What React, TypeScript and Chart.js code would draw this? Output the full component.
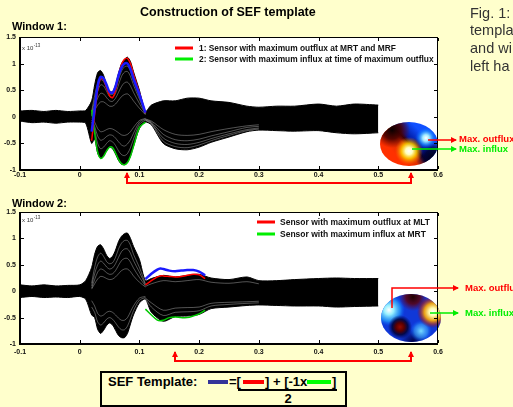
import React, { useEffect, useRef } from 'react';
import { Chart, registerables } from 'chart.js';
Chart.register(...registerables);

const FONT = '"Liberation Sans", Arial, Helvetica, sans-serif';
const BG = '#FFFFCC';

// ---------- data (units of 1e-13 T) ----------
const TIME = [-0.1, -0.08, -0.06, -0.04, -0.02, 0, 0.01, 0.02, 0.025, 0.03, 0.035, 0.04, 0.045, 0.05, 0.055, 0.06, 0.065, 0.07, 0.075, 0.08, 0.085, 0.09, 0.1, 0.11, 0.12, 0.14, 0.16, 0.18, 0.2, 0.22, 0.25, 0.28, 0.3, 0.33, 0.36, 0.4, 0.43, 0.46, 0.5];

const W1_UPPER = [0.11, 0.12, 0.1, 0.12, 0.1, 0.11, 0.12, 0.3, 0.6, 0.83, 0.87, 0.78, 0.6, 0.48, 0.47, 0.6, 0.82, 1.0, 1.08, 1.12, 1.04, 0.85, 0.5, 0.1, 0.22, 0.3, 0.3, 0.35, 0.35, 0.3, 0.27, 0.2, 0.18, 0.2, 0.2, 0.24, 0.2, 0.24, 0.22];
const W1_LOWER = [-0.08, -0.11, -0.1, -0.12, -0.1, -0.1, -0.12, -0.5, -0.42, -0.68, -0.78, -0.74, -0.64, -0.57, -0.6, -0.7, -0.82, -0.89, -0.9, -0.86, -0.74, -0.56, -0.22, -0.1, -0.15, -0.5, -0.6, -0.62, -0.57, -0.48, -0.38, -0.28, -0.25, -0.26, -0.27, -0.26, -0.3, -0.32, -0.3];

const W2_UPPER = [0.12, 0.1, 0.12, 0.1, 0.11, 0.12, 0.2, 0.45, 0.7, 0.85, 0.88, 0.8, 0.68, 0.62, 0.66, 0.78, 0.94, 1.04, 1.09, 1.1, 1.0, 0.85, 0.6, 0.2, 0.24, 0.3, 0.27, 0.3, 0.32, 0.25, 0.22, 0.27, 0.2, 0.2, 0.22, 0.24, 0.25, 0.24, 0.24];
const W2_LOWER = [-0.12, -0.1, -0.12, -0.11, -0.12, -0.1, -0.15, -0.45, -0.5, -0.72, -0.8, -0.74, -0.65, -0.6, -0.64, -0.74, -0.84, -0.88, -0.88, -0.8, -0.62, -0.45, -0.22, -0.15, -0.4, -0.57, -0.48, -0.47, -0.44, -0.33, -0.3, -0.27, -0.26, -0.27, -0.28, -0.28, -0.3, -0.29, -0.28];

const T_ACTIVE = [0.02, 0.025, 0.03, 0.035, 0.04, 0.045, 0.05, 0.055, 0.06, 0.065, 0.07, 0.075, 0.08, 0.085, 0.09, 0.1, 0.11];
const W1_RED = [-0.45, 0.05, 0.5, 0.72, 0.7, 0.55, 0.4, 0.36, 0.5, 0.78, 0.98, 1.08, 1.1, 1.0, 0.8, 0.45, 0.07];
const W1_GREEN = [0.13, -0.3, -0.66, -0.78, -0.74, -0.64, -0.57, -0.58, -0.68, -0.8, -0.88, -0.9, -0.86, -0.74, -0.56, -0.2, -0.1];
const W1_BLUE = [-0.28, 0.15, 0.58, 0.75, 0.72, 0.6, 0.47, 0.45, 0.57, 0.78, 0.93, 1.0, 1.0, 0.9, 0.72, 0.42, 0.08];

const T_LATE = [0.11, 0.12, 0.13, 0.135, 0.14, 0.15, 0.16, 0.17, 0.18, 0.19, 0.2, 0.21];
const W2_RED = [0.12, 0.2, 0.27, 0.29, 0.29, 0.28, 0.27, 0.28, 0.3, 0.32, 0.31, 0.24];
const W2_GREEN = [-0.34, -0.45, -0.55, -0.56, -0.55, -0.5, -0.49, -0.5, -0.5, -0.47, -0.43, -0.36];
const W2_BLUE = [0.23, 0.33, 0.41, 0.43, 0.42, 0.39, 0.38, 0.39, 0.4, 0.4, 0.37, 0.3];

// inner trace gaps (thin white gaps between the black sensor traces)
const W1_GAPS_ACTIVE = [
  [0.1, 0.4, 0.62, 0.7, 0.66, 0.54, 0.43, 0.42, 0.52, 0.7, 0.86, 0.94, 0.95, 0.86, 0.68, 0.38, 0.07],
  [0.05, 0.3, 0.48, 0.6, 0.58, 0.48, 0.38, 0.36, 0.44, 0.6, 0.76, 0.84, 0.85, 0.76, 0.6, 0.33, 0.06],
  [0.03, 0.2, 0.35, 0.44, 0.43, 0.36, 0.3, 0.29, 0.35, 0.46, 0.57, 0.64, 0.65, 0.58, 0.46, 0.25, 0.05],
  [0.02, 0.12, 0.22, 0.28, 0.28, 0.24, 0.2, 0.2, 0.24, 0.31, 0.38, 0.42, 0.43, 0.38, 0.3, 0.16, 0.04],
  [-0.1, -0.25, -0.5, -0.6, -0.57, -0.5, -0.45, -0.47, -0.54, -0.64, -0.71, -0.73, -0.69, -0.58, -0.42, -0.14, -0.06],
  [-0.06, -0.18, -0.36, -0.44, -0.42, -0.37, -0.34, -0.35, -0.4, -0.47, -0.53, -0.55, -0.51, -0.43, -0.31, -0.1, -0.04],
  [-0.04, -0.1, -0.22, -0.28, -0.27, -0.24, -0.22, -0.23, -0.26, -0.3, -0.34, -0.35, -0.33, -0.28, -0.2, -0.07, -0.03],
];
const T_POST = [0.11, 0.12, 0.14, 0.16, 0.18, 0.2, 0.22, 0.25, 0.28, 0.3];
const W1_GAPS_POST = [
  [-0.07, -0.13, -0.46, -0.56, -0.58, -0.53, -0.45, -0.35, -0.26, -0.23],
  [-0.06, -0.12, -0.4, -0.5, -0.52, -0.48, -0.41, -0.32, -0.24, -0.21],
  [-0.05, -0.1, -0.33, -0.43, -0.45, -0.42, -0.36, -0.28, -0.2, -0.18],
  [-0.04, -0.08, -0.24, -0.33, -0.35, -0.33, -0.28, -0.22, -0.17, -0.15],
];
const W2_GAPS_ACTIVE = [
  [0.15, 0.45, 0.65, 0.72, 0.66, 0.56, 0.52, 0.54, 0.64, 0.8, 0.91, 0.96, 0.96, 0.87, 0.7, 0.45, 0.14],
  [0.1, 0.33, 0.5, 0.57, 0.53, 0.46, 0.42, 0.44, 0.52, 0.64, 0.75, 0.8, 0.8, 0.72, 0.58, 0.36, 0.12],
  [0.06, 0.22, 0.36, 0.42, 0.4, 0.35, 0.32, 0.33, 0.39, 0.49, 0.58, 0.62, 0.62, 0.55, 0.44, 0.26, 0.1],
  [0.04, 0.14, 0.23, 0.28, 0.27, 0.24, 0.22, 0.23, 0.27, 0.33, 0.39, 0.42, 0.42, 0.37, 0.29, 0.17, 0.08],
  [-0.3, -0.4, -0.58, -0.64, -0.6, -0.53, -0.5, -0.53, -0.6, -0.68, -0.73, -0.73, -0.66, -0.52, -0.37, -0.17, -0.12],
  [-0.18, -0.28, -0.42, -0.47, -0.45, -0.4, -0.38, -0.4, -0.45, -0.51, -0.55, -0.55, -0.5, -0.39, -0.28, -0.13, -0.1],
];
const W2_GAPS_POST = [
  [-0.14, -0.3, -0.46, -0.4, -0.39, -0.37, -0.28, -0.25, -0.23, -0.22],
  [-0.13, -0.22, -0.36, -0.32, -0.31, -0.3, -0.23, -0.21, -0.2, -0.19],
  [0.09, 0.14, 0.2, 0.18, 0.2, 0.22, 0.17, 0.15, 0.18, 0.14],
];

const X_TICKS = [-0.1, 0, 0.1, 0.2, 0.3, 0.4, 0.5, 0.6];
const X_TICK_LABELS = ['-0.1', '0', '0.1', '0.2', '0.3', '0.4', '0.5', '0.6'];
const Y_TICKS = [-1, -0.5, 0, 0.5, 1, 1.5];
const Y_TICK_LABELS = ['-1', '-0.5', '0', '0.5', '1', '1.5'];

const W1_LEGEND = ['1: Sensor with maximum outflux at MRT and MRF', '2: Sensor with maximum influx at time of maximum outflux'];
const W2_LEGEND = ['Sensor with maximum outflux at MLT', 'Sensor with maximum influx at MRT'];

const RED = '#ff0000';
const GREEN_LINE = '#00c800';
const GREEN_TXT = '#00ee00';
const BLUE = '#1a1aff';
const GAP = 'rgba(255,255,255,0.55)';

// ---------- helpers ----------
const pts = (xs: number[], ys: number[]) => xs.map((x, i) => ({ x, y: ys[i] }));

function radial(ctx: CanvasRenderingContext2D, x: number, y: number, r: number, stops: [number, string][]) {
  const g = ctx.createRadialGradient(x, y, 0, x, y, r);
  stops.forEach(([o, c]) => g.addColorStop(o, c));
  ctx.fillStyle = g;
  ctx.fillRect(x - r, y - r, 2 * r, 2 * r);
}

function topo1(ctx: CanvasRenderingContext2D, cx: number, cy: number, rx: number, ry: number) {
  ctx.save();
  ctx.beginPath();
  ctx.ellipse(cx, cy, rx, ry, 0, 0, Math.PI * 2);
  ctx.clip();
  const g = ctx.createLinearGradient(cx - 12, cy + 12, cx + 12, cy - 12);
  g.addColorStop(0, '#ff3000');
  g.addColorStop(0.4, '#d03000');
  g.addColorStop(0.52, '#200010');
  g.addColorStop(0.62, '#0018a0');
  g.addColorStop(1, '#1050ff');
  ctx.fillStyle = g;
  ctx.fillRect(cx - rx, cy - ry, 2 * rx, 2 * ry);
  radial(ctx, cx - 17, cy - 14, 18, [[0, 'rgba(10,0,0,1)'], [0.5, 'rgba(70,0,0,0.9)'], [1, 'rgba(120,0,0,0)']]);
  radial(ctx, cx + 24, cy + 14, 17, [[0, 'rgba(0,0,20,1)'], [0.5, 'rgba(0,0,50,0.9)'], [1, 'rgba(0,0,90,0)']]);
  radial(ctx, cx + 6, cy + 2, 8, [[0, 'rgba(20,0,20,0.9)'], [1, 'rgba(20,0,20,0)']]);
  radial(ctx, cx + 0, cy + 7, 14, [[0, 'rgba(255,255,255,1)'], [0.25, 'rgba(255,255,190,1)'], [0.55, 'rgba(255,210,0,0.85)'], [1, 'rgba(255,110,0,0)']]);
  radial(ctx, cx + 17, cy - 6, 11, [[0, 'rgba(255,255,255,1)'], [0.3, 'rgba(160,235,255,1)'], [0.65, 'rgba(30,140,255,0.7)'], [1, 'rgba(0,80,255,0)']]);
  ctx.restore();
}

function topo2(ctx: CanvasRenderingContext2D, cx: number, cy: number, rx: number, ry: number) {
  ctx.save();
  ctx.beginPath();
  ctx.ellipse(cx, cy, rx, ry, 0, 0, Math.PI * 2);
  ctx.clip();
  ctx.fillStyle = '#1038d8';
  ctx.fillRect(cx - rx, cy - ry, 2 * rx, 2 * ry);
  radial(ctx, cx + 2, cy + 24, 14, [[0, 'rgba(0,0,60,1)'], [1, 'rgba(0,0,90,0)']]);
  radial(ctx, cx - 22, cy - 8, 16, [[0, 'rgba(255,255,255,1)'], [0.3, 'rgba(150,240,255,1)'], [0.7, 'rgba(40,170,255,0.7)'], [1, 'rgba(0,100,255,0)']]);
  radial(ctx, cx + 10, cy + 13, 11, [[0, 'rgba(120,220,255,1)'], [0.6, 'rgba(60,170,255,0.6)'], [1, 'rgba(0,100,255,0)']]);
  radial(ctx, cx + 2, cy - 21, 14, [[0, 'rgba(30,0,0,1)'], [0.5, 'rgba(90,0,10,0.85)'], [1, 'rgba(100,0,40,0)']]);
  radial(ctx, cx + 22, cy - 6, 16, [[0, 'rgba(255,255,255,1)'], [0.25, 'rgba(255,250,170,1)'], [0.55, 'rgba(255,170,0,0.9)'], [0.8, 'rgba(200,40,0,0.5)'], [1, 'rgba(150,0,0,0)']]);
  radial(ctx, cx - 11, cy + 9, 12, [[0, 'rgba(150,10,0,1)'], [0.35, 'rgba(90,0,0,1)'], [0.65, 'rgba(0,0,50,0.85)'], [1, 'rgba(0,0,80,0)']]);
  ctx.restore();
}

function arrowHead(ctx: CanvasRenderingContext2D, fx: number, fy: number, tx: number, ty: number, color: string) {
  const ang = Math.atan2(ty - fy, tx - fx);
  const L = 5, W = 3;
  ctx.fillStyle = color;
  ctx.beginPath();
  ctx.moveTo(tx + Math.cos(ang) * 1, ty + Math.sin(ang) * 1);
  ctx.lineTo(tx - L * Math.cos(ang) + W * Math.sin(ang), ty - L * Math.sin(ang) - W * Math.cos(ang));
  ctx.lineTo(tx - L * Math.cos(ang) - W * Math.sin(ang), ty - L * Math.sin(ang) + W * Math.cos(ang));
  ctx.closePath();
  ctx.fill();
}

function polyArrow(ctx: CanvasRenderingContext2D, p: number[][], color: string, startHead: boolean, endHead: boolean, lw = 2) {
  ctx.strokeStyle = color;
  ctx.lineWidth = lw;
  ctx.beginPath();
  ctx.moveTo(p[0][0], p[0][1]);
  for (let i = 1; i < p.length; i++) ctx.lineTo(p[i][0], p[i][1]);
  ctx.stroke();
  const n = p.length;
  if (endHead) arrowHead(ctx, p[n - 2][0], p[n - 2][1], p[n - 1][0], p[n - 1][1], color);
  if (startHead) arrowHead(ctx, p[1][0], p[1][1], p[0][0], p[0][1], color);
}

type Spec = {
  offY: number;
  height: number;
  padTop: number;
  axisH: number;
  xPad: number;
  upper: number[];
  lower: number[];
  red: { x: number; y: number }[];
  green: { x: number; y: number }[];
  blue: { x: number; y: number }[];
  gapsActive: number[][];
  gapsPost: number[][];
  legend: string[];
  legendSize: number;
  legendX: number;
  legendTextX: number;
  legendY: number[];
  expY: number;
  topo: (ctx: CanvasRenderingContext2D) => void;
  overlays: (ctx: CanvasRenderingContext2D) => void;
};

function makeConfig(s: Spec): any {
  const datasets: any[] = [];
  datasets.push({ data: s.blue, borderColor: BLUE, borderWidth: 2.5, tension: 0.3, order: 1, pointRadius: 0, fill: false });
  datasets.push({ data: s.red, borderColor: RED, borderWidth: 1.5, tension: 0.3, order: 2, pointRadius: 0, fill: false });
  datasets.push({ data: s.green, borderColor: GREEN_LINE, borderWidth: 1.5, tension: 0.3, order: 2, pointRadius: 0, fill: false });
  s.gapsActive.forEach((g) => datasets.push({ data: pts(T_ACTIVE, g), borderColor: GAP, borderWidth: 0.6, tension: 0.3, order: 5, pointRadius: 0, fill: false }));
  s.gapsPost.forEach((g) => datasets.push({ data: pts(T_POST, g), borderColor: GAP, borderWidth: 0.6, tension: 0.3, order: 5, pointRadius: 0, fill: false }));
  datasets.push({ data: pts(TIME, s.upper), borderColor: '#000', borderWidth: 1, tension: 0.25, order: 10, pointRadius: 0, fill: '+1', backgroundColor: '#000' });
  datasets.push({ data: pts(TIME, s.lower), borderColor: '#000', borderWidth: 1, tension: 0.25, order: 11, pointRadius: 0, fill: false });

  const tickFont = { family: FONT, size: 7, weight: 'bold' as const };

  const overlay = {
    id: 'overlay',
    beforeDraw(chart: any) {
      const { ctx, chartArea: a } = chart;
      ctx.save();
      ctx.fillStyle = '#fff';
      ctx.fillRect(a.left, a.top, a.right - a.left, a.bottom - a.top);
      ctx.restore();
    },
    afterDatasetsDraw(chart: any) {
      const { ctx, chartArea: a, scales } = chart;
      ctx.save();
      ctx.translate(0, -s.offY);
      s.topo(ctx);
      ctx.restore();
      ctx.save();
      ctx.fillStyle = '#000';
      const w = a.right - a.left, h = a.bottom - a.top;
      ctx.fillRect(a.left, a.top, w, 1);
      ctx.fillRect(a.right - 1, a.top, 1, h);
      ctx.fillRect(a.left - 1, a.top, 2, h + 1);
      ctx.fillRect(a.left - 1, a.bottom - 1, w + 1, 2);
      X_TICKS.forEach((v) => {
        const px = Math.round(scales.x.getPixelForValue(v));
        ctx.fillRect(px, a.bottom - 4, 1, 3);
        ctx.fillRect(px, a.top + 1, 1, 3);
      });
      Y_TICKS.forEach((v) => {
        const py = Math.round(scales.y.getPixelForValue(v));
        ctx.fillRect(a.left + 1, py, 3, 1);
        ctx.fillRect(a.right - 4, py, 3, 1);
      });
      ctx.restore();
    },
    afterDraw(chart: any) {
      const { ctx } = chart;
      ctx.save();
      ctx.translate(0, -s.offY);
      ctx.fillStyle = '#333';
      ctx.textBaseline = 'alphabetic';
      ctx.font = `6px ${FONT}`;
      ctx.fillText('x 10', 22, s.expY);
      const wx = ctx.measureText('x 10').width;
      ctx.font = `4.5px ${FONT}`;
      ctx.fillText('-13', 22 + wx + 0.3, s.expY - 3.5);
      const cols = [RED, GREEN_TXT];
      s.legend.forEach((txt, i) => {
        const y = s.legendY[i];
        ctx.fillStyle = cols[i];
        ctx.fillRect(s.legendX, y - 1.5, 18, 3);
        ctx.fillStyle = '#111';
        ctx.font = `bold ${s.legendSize}px ${FONT}`;
        ctx.textBaseline = 'middle';
        ctx.fillText(txt, s.legendTextX, y + 0.5);
      });
      s.overlays(ctx);
      ctx.restore();
    },
  };

  return {
    type: 'line',
    data: { datasets },
    options: {
      animation: false,
      responsive: false,
      maintainAspectRatio: false,
      events: [],
      layout: { padding: { left: 0, right: 75, top: s.padTop, bottom: 0 } },
      plugins: { legend: { display: false }, tooltip: { enabled: false }, title: { display: false } },
      elements: { point: { radius: 0 } },
      scales: {
        x: {
          type: 'linear',
          min: -0.1,
          max: 0.6,
          grid: { display: false, drawTicks: false },
          border: { display: false },
          ticks: {
            font: tickFont,
            color: '#111',
            padding: s.xPad,
            autoSkip: false,
            maxRotation: 0,
            callback: (_v: any, i: number) => X_TICK_LABELS[i],
          },
          afterBuildTicks: (sc: any) => {
            sc.ticks = X_TICKS.map((v) => ({ value: v }));
          },
          afterFit: (sc: any) => {
            sc.height = s.axisH;
          },
        },
        y: {
          type: 'linear',
          min: -1,
          max: 1.5,
          grid: { display: false, drawTicks: false },
          border: { display: false },
          ticks: {
            font: tickFont,
            color: '#111',
            padding: 4,
            autoSkip: false,
            callback: (_v: any, i: number) => Y_TICK_LABELS[i],
          },
          afterBuildTicks: (sc: any) => {
            sc.ticks = Y_TICKS.map((v) => ({ value: v }));
          },
          afterFit: (sc: any) => {
            sc.width = 20;
          },
        },
      },
    },
    plugins: [overlay],
  };
}

function outfluxLabels(ctx: CanvasRenderingContext2D, x: number, yOut: number, yIn: number) {
  ctx.font = `bold 9.5px ${FONT}`;
  ctx.textBaseline = 'middle';
  ctx.fillStyle = RED;
  ctx.fillText('Max. outflux', x, yOut + 0.5);
  ctx.fillStyle = GREEN_TXT;
  ctx.fillText('Max. influx', x, yIn + 0.5);
}

const SPEC1: Spec = {
  offY: 0,
  height: 192,
  padTop: 37,
  axisH: 22,
  xPad: 1,
  upper: W1_UPPER,
  lower: W1_LOWER,
  red: pts(T_ACTIVE, W1_RED),
  green: pts(T_ACTIVE, W1_GREEN),
  blue: pts(T_ACTIVE, W1_BLUE),
  gapsActive: W1_GAPS_ACTIVE,
  gapsPost: W1_GAPS_POST,
  legend: W1_LEGEND,
  legendSize: 8.4,
  legendX: 175,
  legendTextX: 199,
  legendY: [48, 59],
  expY: 50,
  topo: (ctx) => {
    ctx.fillStyle = '#fff';
    ctx.fillRect(379, 119, 59, 51);
    topo1(ctx, 409, 144, 29, 22);
  },
  overlays: (ctx) => {
    polyArrow(ctx, [[127, 173], [127, 183], [411, 183], [411, 173]], RED, true, true);
    polyArrow(ctx, [[428, 140], [456, 140]], RED, false, true, 1.5);
    polyArrow(ctx, [[412, 149], [456, 149]], GREEN_TXT, false, true, 1.5);
    outfluxLabels(ctx, 459, 139, 149);
  },
};

const SPEC2: Spec = {
  offY: 192,
  height: 215,
  padTop: 20,
  axisH: 63,
  xPad: 4,
  upper: W2_UPPER,
  lower: W2_LOWER,
  red: pts(T_LATE, W2_RED),
  green: pts(T_LATE, W2_GREEN),
  blue: pts(T_LATE, W2_BLUE),
  gapsActive: W2_GAPS_ACTIVE,
  gapsPost: W2_GAPS_POST,
  legend: W2_LEGEND,
  legendSize: 8.5,
  legendX: 257,
  legendTextX: 280,
  legendY: [222, 234],
  expY: 222,
  topo: (ctx) => {
    ctx.fillStyle = '#fff';
    ctx.fillRect(379, 292, 59, 52);
    topo2(ctx, 411, 318, 30, 24);
  },
  overlays: (ctx) => {
    polyArrow(ctx, [[175, 352], [175, 361], [411, 361], [411, 352]], RED, true, true);
    polyArrow(ctx, [[392, 308], [392, 288], [458, 288]], RED, false, true, 1.5);
    polyArrow(ctx, [[430, 313], [458, 313]], GREEN_TXT, false, true, 1.5);
    outfluxLabels(ctx, 465, 288, 313);
  },
};

function Plot({ spec }: { spec: Spec }) {
  const ref = useRef<HTMLCanvasElement>(null);
  useEffect(() => {
    const c = new Chart(ref.current as HTMLCanvasElement, makeConfig(spec));
    return () => c.destroy();
  }, []);
  return (
    <canvas
      ref={ref}
      width={513}
      height={spec.height}
      style={{ position: 'absolute', left: 0, top: spec.offY, width: 513, height: spec.height }}
    />
  );
}

function T(props: { x: number; y: number; size: number; bold?: boolean; color?: string; center?: boolean; children: React.ReactNode }) {
  const { x, y, size, bold, color, center, children } = props;
  return (
    <div
      style={{
        position: 'absolute',
        left: x,
        top: y - 0.8465 * size,
        fontSize: size,
        lineHeight: size + 'px',
        fontWeight: bold ? 'bold' : 'normal',
        color: color || '#000',
        fontFamily: FONT,
        whiteSpace: 'nowrap',
        transform: center ? 'translateX(-50%)' : undefined,
      }}
    >
      {children}
    </div>
  );
}

const Dash = ({ x, color, w }: { x: number; color: string; w: number }) => (
  <div style={{ position: 'absolute', left: x, top: 379.5, width: w, height: 4, background: color }} />
);

export default function App() {
  useEffect(() => {
    document.body.style.margin = '0';
    document.body.style.background = BG;
  }, []);
  return (
    <div style={{ position: 'fixed', left: 0, top: 0, width: 513, height: 407, background: BG, overflow: 'hidden' }}>
      <Plot spec={SPEC1} />
      <Plot spec={SPEC2} />
      <T x={140} y={17} size={12.5} bold>Construction of SEF template</T>
      <T x={12} y={30.5} size={11} bold>Window 1:</T>
      <T x={12} y={207.5} size={11} bold>Window 2:</T>
      <T x={470} y={18} size={14.5} color="#333">Fig. 1:</T>
      <T x={470} y={35} size={14.5} color="#333">templa</T>
      <T x={470} y={53.3} size={14.5} color="#333">and wi</T>
      <T x={470} y={71.7} size={14.5} color="#333">left ha</T>
      <div style={{ position: 'absolute', left: 100, top: 371, width: 247, height: 36, border: '2px solid #000', boxSizing: 'border-box', background: BG }} />
      <T x={108} y={386} size={13} bold>SEF Template:</T>
      <Dash x={208} color="#333399" w={20} />
      <T x={229} y={386} size={13} bold>=[</T>
      <Dash x={243} color={RED} w={21} />
      <T x={265} y={386} size={13} bold>] + [-1x</T>
      <Dash x={307} color="#00ff00" w={24} />
      <T x={332} y={386} size={13} bold>]</T>
      <div style={{ position: 'absolute', left: 238, top: 389, width: 99, height: 1.5, background: '#000' }} />
      <T x={288} y={403} size={13} bold center>2</T>
    </div>
  );
}
